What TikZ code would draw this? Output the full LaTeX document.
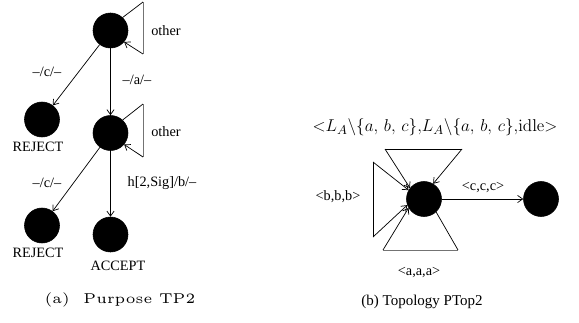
\documentclass[tikz,border=0pt]{standalone}
\usepackage[no-math]{fontspec}
\setmainfont{Liberation Serif}
\newfontfamily\capfont{lmroman5-regular}[Extension=.otf]
\usetikzlibrary{arrows.meta}
\begin{document}
\begin{tikzpicture}[x=0.7pt,y=-0.7pt,
  st/.style={circle, fill=black, draw=black, minimum size=24.5pt, inner sep=0pt},
  lbl/.style={inner sep=0pt, font=\fontsize{10}{12}\selectfont},
  edge/.style={-{Straight Barb[length=3.5pt,width=5pt]}, line width=0.5pt},
  plain/.style={line width=0.5pt},
  grayline/.style={line width=0.7pt, draw=black!55}]
\useasboundingbox (0,0) rectangle (579,322);
% ---- left: Purpose TP2
\node[st] (A) at (110.5,30.5) {};
\node[st] (R1) at (42,119.5) {};
\node[st] (B) at (110.5,133) {};
\node[st] (R2) at (42,225.5) {};
\node[st] (Acc) at (110.5,234.5) {};
\node[lbl] (tR1) at (38,147) {REJECT};
\node[lbl] (tR2) at (38,253) {REJECT};
\node[lbl] (tAcc) at (118,266) {ACCEPT};
\node[lbl] (oA) at (166,31) {other};
\node[lbl] (oB) at (166,132) {other};
\node[lbl] (e1) at (47,72) {--/c/--};
\node[lbl] (e2) at (137,80) {--/a/--};
\node[lbl] (e3) at (47,183) {--/c/--};
\node[lbl] (e4) at (162,183) {h[2,Sig]/b/--};
\draw[edge] (A) -- (R1);
\draw[edge] (A) -- (B);
\draw[edge] (B) -- (R2);
\draw[edge] (B) -- (Acc);
\coordinate (a1) at (143,2);
\coordinate (a2) at (143,54);
\draw[plain] (A.47) -- (a1);
\draw[grayline] (a1) -- (a2);
\draw[edge] (a2) -- (A.-40);
\coordinate (b1) at (143,104);
\coordinate (b2) at (143,157);
\draw[plain] (B.47) -- (b1);
\draw[grayline] (b1) -- (b2);
\draw[edge] (b2) -- (B.-40);
\node[inner sep=0pt, font=\capfont\fontsize{10}{12}\selectfont] (capA) at (120,300) {(a)~~Purpose TP2};
% ---- right: Topology PTop2
\node[st] (C) at (424,199) {};
\node[st] (D) at (541,199) {};
\draw[edge] (C) -- (D);
\node[lbl] (ccc) at (483,187) {<c,c,c>};
\node[lbl] (bbb) at (338,197) {<b,b,b>};
\node[lbl] (aaa) at (419,272) {<a,a,a>};
\node[inner sep=0pt] (ml) at (435,127) {\fontsize{13.2}{16}\selectfont$\mathord{<}L_A\backslash\{a,\,b,\,c\}{,}L_A\backslash\{a,\,b,\,c\}{,}\mathrm{idle}\mathord{>}$};
\coordinate (t1) at (385,149);
\coordinate (t2) at (462,149);
\draw[edge] (t1) -- (C.142);
\draw[plain] (t1) -- (t2);
\draw[edge] (t2) -- (C.59);
\coordinate (l1) at (373,162);
\coordinate (l2) at (373,237);
\draw[edge] (l1) -- (C.150);
\draw[plain] (l1) -- (l2);
\draw[edge] (l2) -- (C.200);
\coordinate (m1) at (383,250);
\coordinate (m2) at (458,250);
\draw[edge] (m1) -- (C.210);
\draw[grayline] (m1) -- (m2);
\draw[plain] (m2) -- (C.313);
\node[inner sep=0pt, font=\fontsize{10.5}{12}\selectfont] (capB) at (422,302) {(b) Topology PTop2};
\end{tikzpicture}
\end{document}
